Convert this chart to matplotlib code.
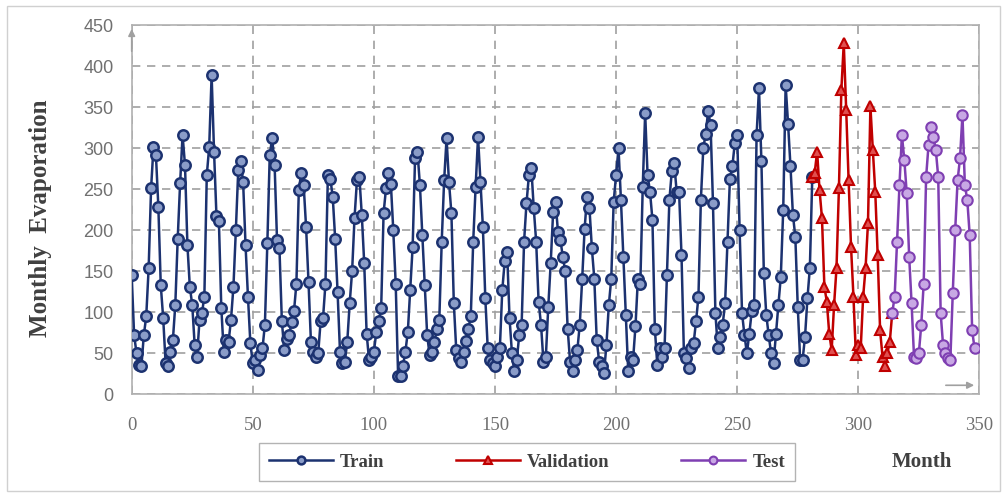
import matplotlib
matplotlib.use("Agg")
import matplotlib.pyplot as plt
from matplotlib.patches import Rectangle

# ---- data (monthly evaporation) ----
train_start = 0
train_values = [
    145, 72, 50, 36, 34, 72, 95, 154, 251, 302, 292, 229,
    133, 93, 38, 34, 52, 66, 109, 190, 258, 316, 280, 182,
    131, 109, 60, 46, 91, 99, 119, 267, 302, 389, 296, 217,
    211, 105, 52, 66, 64, 91, 131, 200, 274, 284, 259, 182,
    119, 62, 38, 42, 30, 48, 56, 85, 184, 292, 312, 280,
    188, 178, 89, 54, 68, 72, 88, 101, 135, 249, 270, 255,
    204, 137, 64, 52, 46, 50, 89, 93, 135, 267, 263, 241,
    190, 125, 52, 38, 40, 64, 111, 150, 215, 261, 265, 219,
    160, 74, 42, 46, 52, 76, 89, 105, 221, 251, 270, 257,
    200, 135, 22, 22, 35, 52, 76, 127, 180, 288, 296, 255,
    194, 133, 72, 48, 52, 64, 80, 91, 186, 261, 312, 259,
    221, 111, 54, 44, 40, 52, 65, 80, 95, 186, 253, 314,
    259, 204, 117, 56, 42, 38, 34, 45, 56, 127, 162, 174,
    93, 50, 28, 42, 72, 85, 186, 233, 267, 276, 227, 186,
    113, 85, 40, 46, 107, 160, 222, 235, 198, 188, 168, 150,
    80, 40, 28, 42, 54, 85, 141, 202, 241, 227, 178, 141,
    66, 40, 34, 26, 60, 109, 141, 235, 267, 300, 237, 168,
    97, 28, 46, 42, 83, 141, 135, 253, 343, 267, 247, 213,
    80, 36, 56, 46, 56, 146, 237, 272, 282, 247, 247, 170,
    50, 44, 32, 56, 62, 89, 119, 237, 300, 318, 345, 329,
    233, 99, 56, 70, 85, 111, 186, 263, 278, 306, 316, 200,
    99, 72, 50, 74, 101, 109, 316, 373, 284, 148, 97, 72,
    50, 38, 74, 109, 143, 225, 377, 330, 278, 219, 192, 107,
    42, 42, 70, 117, 154, 265,
]
val_start = 281
val_values = [
    265, 270, 296, 249, 215, 131, 113, 74, 54, 109, 154, 251,
    371, 428, 347, 261, 180, 119, 48, 60, 56, 119, 154, 209,
    351, 298, 247, 170, 78, 46, 34, 50, 64, 99,
]
test_start = 314
test_values = [
    99, 119, 186, 255, 316, 286, 245, 168, 111, 46, 44, 50,
    85, 135, 265, 304, 326, 314, 298, 265, 99, 60, 50, 44,
    42, 123, 200, 261, 288, 341, 255, 237, 194, 78, 56,
]
x_ticks = [0, 50, 100, 150, 200, 250, 300, 350]
y_ticks = [0, 50, 100, 150, 200, 250, 300, 350, 400, 450]

train_x = list(range(train_start, train_start + len(train_values)))
val_x = list(range(val_start, val_start + len(val_values)))
test_x = list(range(test_start, test_start + len(test_values)))

W, H = 1005, 497
fig = plt.figure(figsize=(W / 100, H / 100), dpi=100)
fig.patch.set_facecolor("white")
fig.add_artist(Rectangle((7 / W, 6 / H), (W - 12) / W, (H - 12) / H,
                         transform=fig.transFigure, fill=False,
                         edgecolor="#d0d0d0", linewidth=1.0))

left, right = 131.7, 979.4
top, bottom = 25.3, 394.3
ax = fig.add_axes([left / W, (H - bottom) / H, (right - left) / W, (bottom - top) / H])

navy = "#1c3270"
red = "#c00000"
purple = "#7f3fb2"

ax.plot(train_x, train_values, color=navy, lw=1.8, marker="o", ms=7.5,
        mfc="#8a9cc8", mec=navy, mew=1.8, label="Train", zorder=3)
ax.plot(val_x, val_values, color=red, lw=1.8, marker="^", ms=7.5,
        mfc="#e05050", mec=red, mew=1.5, label="Validation", zorder=4)
ax.plot(test_x, test_values, color=purple, lw=1.8, marker="o", ms=7.5,
        mfc="#c8a8e4", mec=purple, mew=1.5, label="Test", zorder=5)

ax.set_xlim(0, 350)
ax.set_ylim(0, 450)
ax.set_xticks(x_ticks)
ax.set_yticks(y_ticks)
ax.grid(True, color="#a0a0a0", linestyle=(0, (5, 4)), linewidth=1.2)
ax.set_axisbelow(True)
for s in ax.spines.values():
    s.set_color("#b0b0b0")
    s.set_linewidth(1.2)
ax.tick_params(length=0)
ax.tick_params(axis="y", pad=13, labelsize=13, labelcolor="#707070")
ax.tick_params(axis="x", pad=16, labelsize=13.5, labelcolor="#707070")
for t in ax.get_yticklabels():
    t.set_fontfamily("Liberation Sans")
for t in ax.get_xticklabels():
    t.set_fontfamily("Liberation Serif")

# axis arrows
ax.annotate("", xy=(0, 449), xytext=(0, 415), xycoords="data",
            arrowprops=dict(arrowstyle="-|>", color="#a0a0a0", lw=1.2),
            annotation_clip=False)
ax.annotate("", xy=(349, 11), xytext=(335, 11), xycoords="data",
            arrowprops=dict(arrowstyle="-|>", color="#a0a0a0", lw=1.2),
            annotation_clip=False)

fig.text(40 / W, 1 - 218 / H, "Monthly  Evaporation", rotation=90,
         ha="center", va="center", fontsize=18, fontweight="bold",
         family="Liberation Serif", color="#404040")
fig.text(922 / W, 1 - 462 / H, "Month", ha="center", va="center",
         fontsize=15, fontweight="bold", family="Liberation Serif", color="#404040")

leg = fig.legend(loc="center", bbox_to_anchor=(527 / W, 1 - 462 / H), ncol=3,
                 frameon=True, fancybox=False, edgecolor="#a0a0a0",
                 prop=dict(family="Liberation Serif", weight="bold", size=13.5),
                 handlelength=3.4, handletextpad=0.4, columnspacing=3.8,
                 borderpad=0.55, borderaxespad=0, markerscale=0.75)
leg.get_frame().set_linewidth(1.0)
for t in leg.get_texts():
    t.set_color("#404040")

fig.savefig("out.png", dpi=100)
